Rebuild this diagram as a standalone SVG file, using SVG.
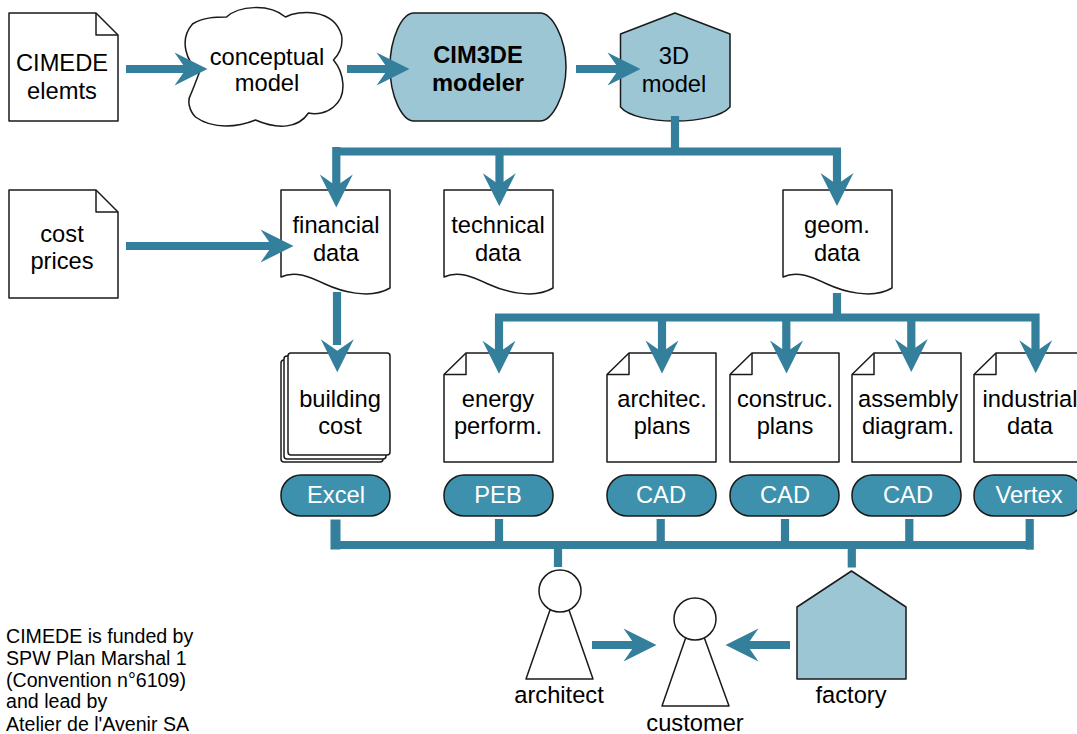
<svg xmlns="http://www.w3.org/2000/svg" width="1077" height="734" viewBox="0 0 1077 734">
<defs>
<style>
text{font-family:"Liberation Sans",Arial,sans-serif;font-size:23.7px;fill:#000;text-anchor:middle}
.s{fill:#fff;stroke:#1a1a1a;stroke-width:1.5;stroke-linejoin:round}
.f{fill:none;stroke:#1a1a1a;stroke-width:1.5;stroke-linejoin:round}
.b{fill:#9dc6d5;stroke:#1a1a1a;stroke-width:1.5;stroke-linejoin:round}
.p{fill:#3d91ac;stroke:#1a1a1a;stroke-width:1.5}
.n{font-size:19.6px;text-anchor:start}
.c{stroke:#337f9c;stroke-width:8.2;fill:none}
.h{fill:#337f9c}
</style>
<polygon id="hr" class="h" points="0.500,0 -32.500,16.500 -21,0 -32.500,-16.500"/>
</defs>
<rect width="1077" height="734" fill="#fff"/>
<g id="doc-cimede"><path class="s" d="M9,13H96L118,35V121H9Z"/><path class="f" d="M96,13V35H118"/><text x="62" y="71">CIMEDE</text><text x="62" y="99">elemts</text></g>
<g id="cloud"><path class="s" transform="translate(-1.500,0)" d="M201,72C188,62 180,40 194,24C205,17 218,17 228,17C240,6 270,3 287,17C300,10 335,8 343,35C345,47 340,55 335,60C345,72 350,95 335,107C328,113 318,115 310,113C300,128 280,130 257,120C240,127 215,130 197,117C190,110 189,100 192,95C195,88 198,80 201,72Z"/><text x="267" y="65">conceptual</text><text x="267" y="91">model</text></g>
<g id="modeler"><path class="b" d="M414,13H540C552,13 566,38 566,67C566,96 552,121 540,121H414C402,121 390,96 390,67C390,38 402,13 414,13Z"/><text x="478" y="63" style="font-weight:bold">CIM3DE</text><text x="478" y="91" style="font-weight:bold">modeler</text></g>
<g id="model3d"><path class="b" d="M620.500,34L675,13L730,34V107C722,116 700,121 675,121C650,121 628,116 620.500,107Z"/><text x="674" y="64">3D</text><text x="674" y="92">model</text></g>
<g id="doc-cost"><path class="s" d="M9,190H96L118,212V298H9Z"/><path class="f" d="M96,190V212H118"/><text x="62" y="242">cost</text><text x="62" y="269">prices</text></g>
<g id="financial"><path class="s" d="M281,190H390V288C370,300 340,291 325,284C310,277 295,270 281,277Z"/><text x="336" y="233">financial</text><text x="336" y="261">data</text></g>
<g id="technical"><path class="s" d="M444,190H553V288C533,300 503,291 488,284C473,277 458,270 444,277Z"/><text x="498" y="233">technical</text><text x="498" y="261">data</text></g>
<g id="geom"><path class="s" d="M783,190H892V288C872,300 842,291 827,284C812,277 797,270 783,277Z"/><text x="837" y="233">geom.</text><text x="837" y="261">data</text></g>
<g id="building"><rect class="s" x="281" y="360" width="102" height="102" rx="3"/><rect class="s" x="284" y="356" width="102" height="103" rx="3"/><rect class="s" x="288" y="353" width="102" height="102" rx="3"/><text x="340" y="407">building</text><text x="340" y="434">cost</text></g>
<g id="energy"><path class="s" d="M466,353H553V462H444V374.500Z"/><path class="f" d="M466,353V374.500H444"/><text x="498" y="407">energy</text><text x="498" y="434">perform.</text></g>
<g id="architec"><path class="s" d="M629,353H716V462H607V374.500Z"/><path class="f" d="M629,353V374.500H607"/><text x="662" y="407">architec.</text><text x="662" y="434">plans</text></g>
<g id="construc"><path class="s" d="M752,353H839V462H730V374.500Z"/><path class="f" d="M752,353V374.500H730"/><text x="785" y="407">construc.</text><text x="785" y="434">plans</text></g>
<g id="assembly"><path class="s" d="M874,353H961V462H852V374.500Z"/><path class="f" d="M874,353V374.500H852"/><text x="908" y="407">assembly</text><text x="908" y="434">diagram.</text></g>
<g id="industrial"><path class="s" d="M996,353H1083V462H974V374.500Z"/><path class="f" d="M996,353V374.500H974"/><text x="1030" y="407">industrial</text><text x="1030" y="434">data</text></g>
<g id="excel"><rect class="p" x="281" y="475" width="109" height="41" rx="20"/><text x="336" y="503" style="fill:#fff">Excel</text></g>
<g id="peb"><rect class="p" x="444" y="475" width="109" height="41" rx="20"/><text x="498" y="503" style="fill:#fff">PEB</text></g>
<g id="cad1"><rect class="p" x="607" y="475" width="109" height="41" rx="20"/><text x="661" y="503" style="fill:#fff">CAD</text></g>
<g id="cad2"><rect class="p" x="730" y="475" width="109" height="41" rx="20"/><text x="785" y="503" style="fill:#fff">CAD</text></g>
<g id="cad3"><rect class="p" x="852" y="475" width="109" height="41" rx="20"/><text x="908" y="503" style="fill:#fff">CAD</text></g>
<g id="vertex"><rect class="p" x="974" y="475" width="109" height="41" rx="20"/><text x="1029" y="503" style="fill:#fff">Vertex</text></g>
<g id="architect"><path class="s" d="M550,610L526,679H593L569,610Z"/><circle class="s" cx="560" cy="591" r="21"/><text x="559" y="703">architect</text></g>
<g id="customer"><path class="s" d="M686,637L662,706H729L704,637Z"/><circle class="s" cx="695" cy="619" r="21"/><text x="695" y="731">customer</text></g>
<g id="factory"><path class="b" d="M797,607L851.500,571L906,607V679H797Z"/><text x="851" y="703">factory</text></g>
<g id="connectors">
<path class="c" d="M126,69H190M347,69H392M576,69H622M126,246H275M592,645H640M790,645H742"/>
<path class="c" d="M675,116V151M332.300,151.500H841M336.300,147V190M499.500,151V190M837,151V190"/>
<path class="c" d="M337,292V345"/>
<path class="c" d="M837,293V317M495,317.500H1039.500M499,317V355M662,317V355M786.300,317V355M911.300,317V355M1035.500,313.500V355"/>
<path class="c" d="M660.700,519V545M785,519V545M909.300,519V545M499,519V545M558,545V567M851.800,545V567.500"/>
<path class="c" d="M336,545H1030"/>
<path class="c" d="M335.500,519.500V549.500" style="stroke-width:10"/>
<path class="c" d="M1029.700,519V549.700"/>
<use href="#hr" x="207" y="69"/><use href="#hr" x="409" y="69"/><use href="#hr" x="640" y="69"/><use href="#hr" x="293" y="246"/>
<use href="#hr" x="656" y="645"/><use href="#hr" transform="translate(726,645) rotate(180)"/>
<use href="#hr" transform="translate(336.300,207) rotate(90)"/><use href="#hr" transform="translate(499.300,205.700) rotate(90)"/><use href="#hr" transform="translate(837,205.500) rotate(90)"/>
<use href="#hr" transform="translate(337.300,371.700) rotate(90)"/><use href="#hr" transform="translate(499,373.300) rotate(90)"/><use href="#hr" transform="translate(662,373) rotate(90)"/><use href="#hr" transform="translate(786.500,373) rotate(90)"/><use href="#hr" transform="translate(911.300,371.500) rotate(90)"/><use href="#hr" transform="translate(1035.700,372.700) rotate(90)"/>
</g>
<g id="note"><text class="n" x="6" y="643">CIMEDE is funded by</text><text class="n" x="6" y="664.500">SPW Plan Marshal 1</text><text class="n" x="6" y="686.500">(Convention n°6109)</text><text class="n" x="6" y="708">and lead by</text><text class="n" x="6" y="730.500">Atelier de l'Avenir SA</text></g>
</svg>
